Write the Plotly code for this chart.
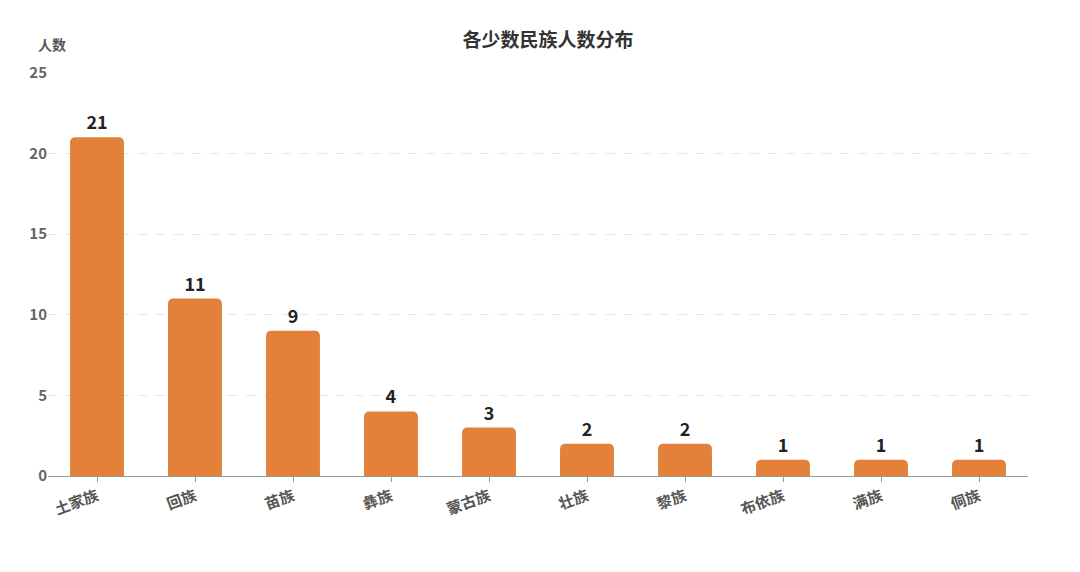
import plotly.graph_objects as go

groups = ["土家族", "回族", "苗族", "彝族", "蒙古族", "壮族", "黎族", "布依族", "满族", "侗族"]
counts = [21, 11, 9, 4, 3, 2, 2, 1, 1, 1]

font = "Noto Sans CJK SC"

fig = go.Figure(go.Bar(
    x=groups, y=counts,
    text=[f"<b>{c}</b>" for c in counts], textposition="outside",
    textfont=dict(size=18, color="#222", family=font),
    marker=dict(color="#E3813A", line=dict(width=0)),
    width=0.55,
    cliponaxis=False,
))

fig.update_layout(
    width=1080, height=572,
    paper_bgcolor="white", plot_bgcolor="white",
    margin=dict(l=40, r=60, t=64, b=104),
    barcornerradius=5,
    showlegend=False,
    font=dict(family=font, color="#555"),
    title=dict(text="<b>各少数民族人数分布</b>", x=0.5, y=0.955,
               xanchor="center", font=dict(size=19, color="#333", family=font)),
    annotations=[dict(text="<b>人数</b>", xref="paper", yref="paper", x=0.02, y=1.04,
                      xanchor="right", yanchor="bottom", showarrow=False,
                      font=dict(size=14, color="#555", family=font))],
)
fig.update_xaxes(tickangle=-20, tickfont=dict(size=15, color="#555"),
                 tickvals=groups, ticktext=[f"<b>{g}</b>" for g in groups],
                 showline=True, linecolor="#999", ticks="outside", ticklen=5, tickcolor="#999")
fig.update_yaxes(range=[0, 25.05], tickvals=[0, 5, 10, 15, 20, 25],
                 ticktext=[f"<b>{v}</b>" for v in [0, 5, 10, 15, 20, 25]],
                 tickfont=dict(size=15, color="#666"),
                 showgrid=True, gridcolor="#e6e6e6", griddash="dash", zeroline=False)

fig.write_html("out.html")
